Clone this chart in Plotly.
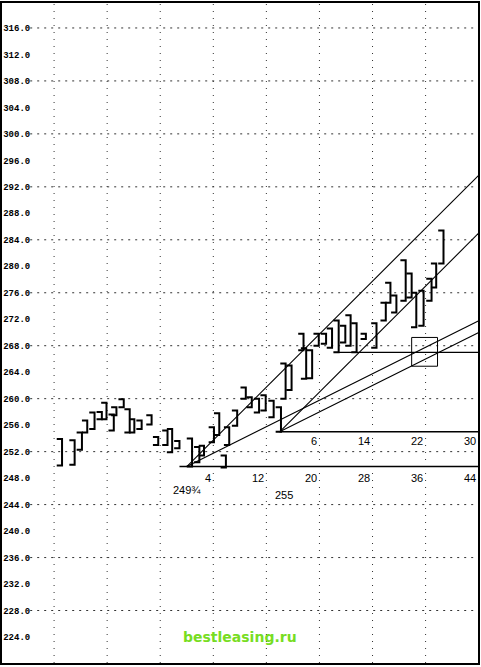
import plotly.graph_objects as go

# ---------------- data ----------------
bar_day = [-18.8, -16.9, -15.8, -15.0, -13.9, -12.8, -12.1, -11.0, -10.6, -9.5,
           -8.6, -7.9, -6.8, -5.3, -4.3, -2.9, -2.2, -1.1, 0.8, 1.9,
           2.6, 4.1, 4.9, 5.9, 6.4, 7.6, 8.9, 9.8, 10.9, 11.9,
           13.1, 14.2, 14.9, 15.8, 17.6, 18.0, 18.9, 19.9, 21.0, 21.9,
           22.9, 23.9, 24.7, 25.6, 27.0, 28.6, 30.0, 30.7, 31.6, 33.0,
           33.9, 34.6, 35.7, 36.9, 37.6, 38.7]
bar_high = [253.9, 253.7, 254.9, 256.7, 257.9, 258.0, 259.4, 257.6, 258.7, 259.9,
            258.4, 256.9, 256.7, 257.5, 254.2, 255.2, 255.4, 253.6, 254.0, 252.7,
            252.9, 255.7, 257.8, 251.4, 255.7, 258.2, 261.7, 260.2, 260.0, 260.5,
            259.7, 258.7, 265.3, 265.0, 269.8, 267.6, 267.3, 269.8, 269.8, 270.6,
            271.8, 271.0, 272.6, 271.4, 269.8, 271.4, 274.5, 277.5, 275.6, 280.9,
            278.9, 276.0, 276.3, 278.1, 280.4, 285.4]
bar_low = [249.9, 250.0, 252.3, 254.9, 255.4, 256.9, 256.9, 255.2, 257.5, 258.7,
           254.9, 254.9, 255.4, 256.1, 253.0, 253.0, 251.9, 252.5, 249.75, 250.4,
           251.4, 253.4, 254.5, 249.6, 253.0, 255.9, 260.0, 258.7, 257.9, 258.2,
           257.2, 255.0, 260.0, 261.3, 267.3, 263.0, 263.1, 268.0, 268.3, 267.7,
           267.0, 268.5, 268.0, 267.0, 269.0, 267.7, 271.8, 274.5, 273.0, 274.8,
           275.3, 270.8, 271.0, 274.8, 276.8, 280.4]

y_ticks = [224, 228, 232, 236, 240, 244, 248, 252, 256, 260, 264, 268, 272,
           276, 280, 284, 288, 292, 296, 300, 304, 308, 312, 316]
y_grid = [228, 236, 244, 252, 260, 268, 276, 284, 292, 300, 308, 316]
x_grid = [-20, -12, -4, 4, 12, 20, 28, 36]

low_origin = (0, 249.75)
low2_origin = (14, 255)
end_day = 44
count1_days = [4, 12, 20, 28, 36, 44]
count2_days = [20, 28, 36, 44]
count2_labels = ["6", "14", "22", "30"]
resist_level = 267
box_x = [33.9, 37.8]
box_y = [264.9, 269.25]

# ---------------- figure ----------------
X0, X1 = -27.85, 43.9
Y0, Y1 = 220.07, 319.77

fig = go.Figure()

# bars drawn as "]" brackets
bx, by = [], []
tick = 0.8
for d, h, l in zip(bar_day, bar_high, bar_low):
    bx += [d - tick, d, d, d - tick, None]
    by += [h, h, l, l, None]
fig.add_trace(go.Scatter(x=bx, y=by, mode="lines",
                         line=dict(color="black", width=2), hoverinfo="skip"))

# Gann angle lines
def angle(orig, ratio):
    d0, p0 = orig
    return [d0, end_day], [p0, p0 + (end_day - d0) * ratio]

for orig in (low_origin, low2_origin):
    for ratio in (1.0, 0.5):
        xs, ys = angle(orig, ratio)
        fig.add_trace(go.Scatter(x=xs, y=ys, mode="lines",
                                 line=dict(color="black", width=1.1), hoverinfo="skip"))

# baselines
fig.add_trace(go.Scatter(x=[-1.1, end_day], y=[low_origin[1]] * 2, mode="lines",
                         line=dict(color="black", width=1.3), hoverinfo="skip"))
fig.add_trace(go.Scatter(x=[low2_origin[0], end_day], y=[low2_origin[1]] * 2, mode="lines",
                         line=dict(color="black", width=1.3), hoverinfo="skip"))
fig.add_trace(go.Scatter(x=[22.9, end_day], y=[resist_level] * 2, mode="lines",
                         line=dict(color="black", width=1.1), hoverinfo="skip"))
# box
fig.add_trace(go.Scatter(x=[box_x[0], box_x[1], box_x[1], box_x[0], box_x[0]],
                         y=[box_y[1], box_y[1], box_y[0], box_y[0], box_y[1]],
                         mode="lines", line=dict(color="black", width=1), hoverinfo="skip"))

shapes = []
for g in y_grid:
    shapes.append(dict(type="line", xref="x", yref="y", x0=-23.6, x1=X1, y0=g, y1=g,
                       line=dict(color="#333", width=1, dash="2px,5px"), layer="below"))
for g in x_grid:
    shapes.append(dict(type="line", xref="x", yref="y", x0=g, x1=g, y0=Y0, y1=Y1,
                       line=dict(color="#333", width=1, dash="1px,6px"), layer="below"))

ann = []
lab_font = dict(family="Liberation Sans", size=11, color="black")
for d in count1_days:
    ann.append(dict(x=d - 0.1, y=248.0, text=str(d), showarrow=False, xanchor="right",
                    font=lab_font))
for d, t in zip(count2_days, count2_labels):
    ann.append(dict(x=d - 0.1, y=253.6, text=t, showarrow=False, xanchor="right",
                    font=lab_font))
ann.append(dict(x=0, y=246.2, text="249¾", showarrow=False, font=lab_font))
ann.append(dict(x=14.6, y=245.4, text="255", showarrow=False, font=lab_font))
ann.append(dict(x=0.5, y=0.039, xref="paper", yref="paper", yanchor="middle",
                text="<b>bestleasing.ru</b>",
                showarrow=False, font=dict(family="DejaVu Sans", size=14, color="#77dd22")))

fig.update_layout(
    width=481, height=667,
    margin=dict(l=2, r=1, t=2, b=4),
    paper_bgcolor="white", plot_bgcolor="white",
    showlegend=False,
    shapes=shapes, annotations=ann,
    xaxis=dict(range=[X0, X1], showgrid=False, zeroline=False, showticklabels=False,
               showline=True, linecolor="black", linewidth=2, mirror=True, ticks=""),
    yaxis=dict(range=[Y0, Y1], tickvals=y_ticks, ticktext=[f"{v:.1f}" for v in y_ticks],
               ticklabelposition="inside", showgrid=False, zeroline=False,
               showline=True, linecolor="black", linewidth=2, mirror=True, ticks="",
               tickfont=dict(family="Liberation Mono", size=9, color="black", weight="bold")),
)

fig.write_html("out.html", config={"displayModeBar": False},
               post_script="document.body.style.margin='0';")
